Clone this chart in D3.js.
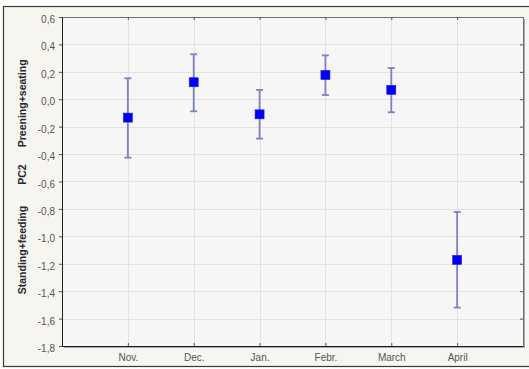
<!DOCTYPE html>
<html>
<head>
<meta charset="utf-8">
<script src="https://cdn.jsdelivr.net/npm/d3@7"></script>
<style>
  html, body { margin: 0; padding: 0; background: #ffffff; }
  svg { display: block; }
</style>
</head>
<body>
<script>
// Seasonal PC2 scores: mean with confidence interval per month
const months = ["Nov.", "Dec.", "Jan.", "Febr.", "March", "April"];
const means  = [-0.134, 0.124, -0.110, 0.177, 0.068, -1.172];
const upper  = [0.153, 0.328, 0.068, 0.320, 0.228, -0.822];
const lower  = [-0.426, -0.088, -0.287, 0.031, -0.095, -1.520];
const yTicks = [0.6, 0.4, 0.2, 0.0, -0.2, -0.4, -0.6, -0.8, -1.0, -1.2, -1.4, -1.6, -1.8];

const W = 529, H = 369;
const plot = { left: 62, top: 17, right: 523, bottom: 346 };

const svg = d3.select("body").append("svg")
  .attr("width", W).attr("height", H);

// outer panel
svg.append("rect")
  .attr("x", 3.5).attr("y", 6.5)
  .attr("width", W).attr("height", 360)
  .attr("fill", "#f6f5ef")
  .attr("stroke", "#3a3a3a").attr("stroke-width", 1.2);

const x = d3.scaleLinear().domain([0, months.length + 1]).range([plot.left, plot.right]);
const y = d3.scaleLinear().domain([-1.8, 0.6]).range([plot.bottom, plot.top]);

// plot shadow + background
svg.append("rect")
  .attr("x", plot.left + 2).attr("y", plot.top + 2)
  .attr("width", plot.right - plot.left).attr("height", plot.bottom - plot.top)
  .attr("fill", "#a8a8a8");
svg.append("rect")
  .attr("x", plot.left).attr("y", plot.top)
  .attr("width", plot.right - plot.left).attr("height", plot.bottom - plot.top)
  .attr("fill", "#f6f6f6");

// grid
const grid = svg.append("g").attr("stroke", "#e2e2e2").attr("stroke-width", 1);
grid.selectAll("line.h").data(yTicks.slice(1, -1)).join("line")
  .attr("x1", plot.left).attr("x2", plot.right)
  .attr("y1", d => Math.round(y(d)) + 0.5).attr("y2", d => Math.round(y(d)) + 0.5);
grid.selectAll("line.v").data(months).join("line")
  .attr("x1", (d, i) => Math.round(x(i + 1)) + 0.5).attr("x2", (d, i) => Math.round(x(i + 1)) + 0.5)
  .attr("y1", plot.top).attr("y2", plot.bottom);

// frame
svg.append("rect")
  .attr("x", plot.left + 0.5).attr("y", plot.top + 0.5)
  .attr("width", plot.right - plot.left).attr("height", plot.bottom - plot.top)
  .attr("fill", "none").attr("stroke", "#707070").attr("stroke-width", 1);
svg.append("path")
  .attr("d", `M${plot.left + 0.5},${plot.top}V${plot.bottom + 0.5}H${plot.right}`)
  .attr("fill", "none").attr("stroke", "#202020").attr("stroke-width", 1);

// y axis (left, ticks outward) and mirrored ticks on the right
const yAxis = d3.axisLeft(y).tickValues(yTicks).tickSize(3).tickPadding(4)
  .tickFormat(d => d3.format(".1f")(d).replace("−", "-").replace(".", ","));
const gy = svg.append("g").attr("transform", `translate(${plot.left},0)`).call(yAxis);
gy.select(".domain").remove();
gy.selectAll(".tick line").attr("stroke", "#555");
gy.selectAll(".tick text")
  .attr("fill", "#555").attr("dy", "0.55em")
  .style("font-family", "Liberation Sans, Arial, sans-serif").style("font-size", "10px");

const gyr = svg.append("g").attr("transform", `translate(${plot.right},0)`)
  .call(d3.axisLeft(y).tickValues(yTicks.slice(1, -1)).tickSize(3).tickFormat(""));
gyr.select(".domain").remove();
gyr.selectAll(".tick line").attr("stroke", "#555");

// x axis (ticks inward from bottom) and top ticks
const xAxis = d3.axisBottom(x).tickValues(d3.range(1, months.length + 1))
  .tickSize(-3).tickPadding(8).tickFormat(d => months[d - 1]);
const gx = svg.append("g").attr("transform", `translate(0,${plot.bottom})`).call(xAxis);
gx.select(".domain").remove();
gx.selectAll(".tick line").attr("stroke", "#555");
gx.selectAll(".tick text")
  .attr("fill", "#555")
  .style("font-family", "Liberation Sans, Arial, sans-serif").style("font-size", "10px");

const gxt = svg.append("g").attr("transform", `translate(0,${plot.top})`)
  .call(d3.axisTop(x).tickValues(d3.range(1, months.length + 1)).tickSize(-3).tickFormat(""));
gxt.select(".domain").remove();
gxt.selectAll(".tick line").attr("stroke", "#555");

// axis title: rotated, three parts
const titles = [
  { text: "Standing+feeding", v: -1.10 },
  { text: "PC2", v: -0.55 },
  { text: "Preening+seating", v: -0.03 }
];
svg.append("g").selectAll("text").data(titles).join("text")
  .attr("transform", d => `translate(26,${y(d.v)}) rotate(-90)`)
  .attr("text-anchor", "middle")
  .attr("fill", "#2a2a2a")
  .style("font-family", "Liberation Sans, Arial, sans-serif")
  .style("font-weight", "bold").style("font-size", "10.5px")
  .text(d => d.text);

// error bars
const eb = svg.append("g").attr("stroke", "#7f7fc6").attr("stroke-width", 1.8);
months.forEach((m, i) => {
  const cx = x(i + 1);
  eb.append("line").attr("x1", cx).attr("x2", cx).attr("y1", y(upper[i])).attr("y2", y(lower[i]));
  eb.append("line").attr("x1", cx - 3.5).attr("x2", cx + 3.5).attr("y1", y(upper[i])).attr("y2", y(upper[i]));
  eb.append("line").attr("x1", cx - 3.5).attr("x2", cx + 3.5).attr("y1", y(lower[i])).attr("y2", y(lower[i]));
});

// means
svg.append("g").selectAll("rect").data(means).join("rect")
  .attr("x", (d, i) => x(i + 1) - 4.5).attr("y", d => y(d) - 4.5)
  .attr("width", 9).attr("height", 9)
  .attr("fill", "#0000ff").attr("stroke", "#2020c0").attr("stroke-width", 0.6);
</script>
</body>
</html>
